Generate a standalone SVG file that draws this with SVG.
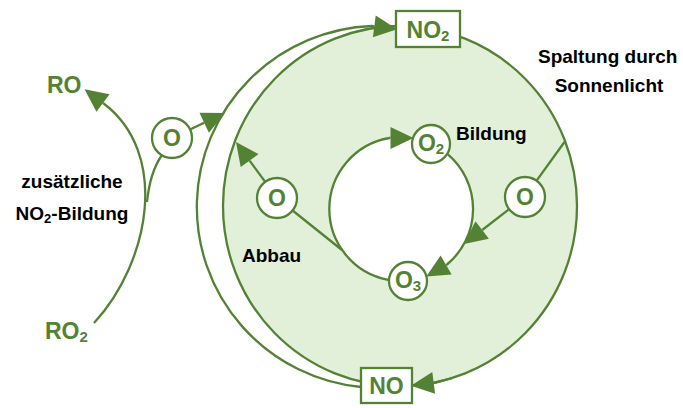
<svg xmlns="http://www.w3.org/2000/svg" width="683" height="408" viewBox="0 0 683 408">
  <style>
    .ln { fill: none; stroke: #548235; stroke-width: 2.3; }
    .node { fill: #ffffff; stroke: #548235; stroke-width: 2.3; }
    .g { fill: #548235; font-family: "Liberation Sans", Arial, sans-serif; font-weight: bold; }
    .k { fill: #000000; font-family: "Liberation Sans", Arial, sans-serif; font-weight: bold; font-size: 19px; }
    .big { font-size: 23px; }
    .box { font-size: 23px; }
  </style>
  <defs>
    <marker id="arrow" markerUnits="userSpaceOnUse" markerWidth="23" markerHeight="22" viewBox="0 0 23 22" refX="0" refY="11" orient="auto" overflow="visible">
      <path d="M0,0 L23,11 L0,22 z" fill="#548235"/>
    </marker>
  </defs>

  <!-- ozone ring: shaded band with the white inner hole -->
  <g id="ring">
    <ellipse cx="400" cy="206" rx="177" ry="180" fill="#E2F0D9" stroke="#548235" stroke-width="2.3"/>
    <circle cx="401" cy="209" r="72" fill="#ffffff"/>
  </g>

  <!-- connectors -->
  <g id="connectors">
    <!-- NO back to NO2 around the outside -->
    <path class="ln" d="M361,387 A182,181 0 0 1 372,26 l2.3,0.3" marker-end="url(#arrow)"/>
    <!-- NO2 split, arrives at NO -->
    <path class="ln" d="M452,378 L436,382.5 l-2.3,0.3" marker-end="url(#arrow)"/>
    <!-- RO2 to RO -->
    <path class="ln" d="M94,323 C150,262 170,153 103,103" marker-end="url(#arrow)"/>
    <path class="ln" d="M147,202 Q150,172 162,155"/>
    <path class="ln" d="M190,129.5 L204.2,122.8" marker-end="url(#arrow)"/>
    <!-- Abbau -->
    <path class="ln" d="M265.2,181.9 L249.6,160.6" marker-end="url(#arrow)"/>
    <path class="ln" d="M292.6,210.5 L342,250"/>
    <!-- Spaltung -->
    <path class="ln" d="M564.5,142 L536.6,180.7"/>
    <path class="ln" d="M509.2,209.2 L482.2,230" marker-end="url(#arrow)"/>
    <!-- inner cycle O3 -> O2 -> O3 -->
    <path class="ln" d="M388.1,279.8 A72,72 0 0 1 389.5,138 l1,0" marker-end="url(#arrow)"/>
    <path class="ln" d="M447.9,154.4 A72,72 0 0 1 447,264.5 l-0.86,0.5" marker-end="url(#arrow)"/>
  </g>

  <!-- nodes -->
  <g id="node-no2">
    <rect class="node" x="396" y="11" width="64" height="36"/>
    <text class="g box" x="428" y="38" text-anchor="middle">NO<tspan font-size="15" dy="3">2</tspan></text>
  </g>
  <g id="node-no">
    <rect class="node" x="361" y="368" width="51" height="35"/>
    <text class="g box" x="386.5" y="394" text-anchor="middle">NO</text>
  </g>
  <g id="node-o-outer">
    <circle class="node" cx="172" cy="138" r="20"/>
    <text class="g big" x="172" y="146" text-anchor="middle">O</text>
  </g>
  <g id="node-o-left">
    <circle class="node" cx="277" cy="198" r="20"/>
    <text class="g big" x="277" y="206" text-anchor="middle">O</text>
  </g>
  <g id="node-o-right">
    <circle class="node" cx="525" cy="197" r="20"/>
    <text class="g big" x="525" y="205" text-anchor="middle">O</text>
  </g>
  <g id="node-o2">
    <circle class="node" cx="431" cy="144" r="19"/>
    <text class="g big" x="431" y="151" text-anchor="middle">O<tspan font-size="15" dy="3">2</tspan></text>
  </g>
  <g id="node-o3">
    <circle class="node" cx="408" cy="281" r="19"/>
    <text class="g big" x="408" y="288" text-anchor="middle">O<tspan font-size="15" dy="3">3</tspan></text>
  </g>
  <g id="node-ro">
    <text class="g big" x="47" y="93">RO</text>
  </g>
  <g id="node-ro2">
    <text class="g big" x="45" y="339">RO<tspan font-size="15" dy="3">2</tspan></text>
  </g>

  <!-- labels -->
  <g id="labels">
    <text class="k" x="72" y="188" text-anchor="middle">zusätzliche</text>
    <text class="k" x="72" y="220" text-anchor="middle">NO<tspan font-size="13" dy="3">2</tspan><tspan dy="-3">-Bildung</tspan></text>
    <text class="k" x="538" y="63">Spaltung durch</text>
    <text class="k" x="609" y="92" text-anchor="middle">Sonnenlicht</text>
    <text class="k" x="456" y="140">Bildung</text>
    <text class="k" x="242" y="262">Abbau</text>
  </g>
</svg>
